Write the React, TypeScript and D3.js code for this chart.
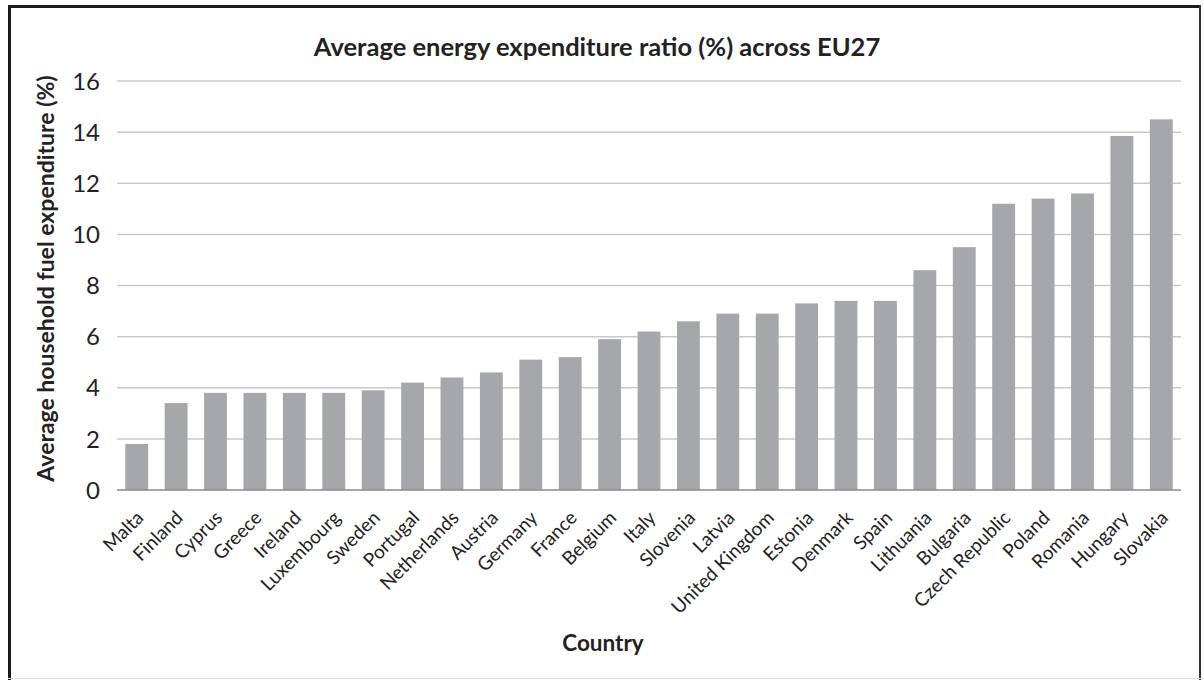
import React from "react";
import * as d3 from "d3";

const countries = ["Malta","Finland","Cyprus","Greece","Ireland","Luxembourg","Sweden","Portugal","Netherlands","Austria","Germany","France","Belgium","Italy","Slovenia","Latvia","United Kingdom","Estonia","Denmark","Spain","Lithuania","Bulgaria","Czech Republic","Poland","Romania","Hungary","Slovakia"];
const values = [1.8,3.4,3.8,3.8,3.8,3.8,3.9,4.2,4.4,4.6,5.1,5.2,5.9,6.2,6.6,6.9,6.9,7.3,7.4,7.4,8.6,9.5,11.2,11.4,11.6,13.85,14.5];
const yTicks = [0,2,4,6,8,10,12,14,16];

const W = 1204, H = 680;
const left = 117, right = 1181, top = 81, bottom = 490;
const FONT = "Lato, 'Open Sans', sans-serif";

export default function App() {
  const x = d3.scaleBand<string>().domain(countries).range([left, right]).paddingInner(0.42).paddingOuter(0.21);
  const y = d3.scaleLinear().domain([0, 16]).range([bottom, top]);
  return (
    <svg width={W} height={H} style={{ position: "absolute", left: 0, top: 0, background: "#fff" }} fontFamily={FONT}>
      <rect x={0} y={0} width={W} height={H} fill="#fff" />
      {yTicks.map((t) => (
        <g key={t}>
          {t > 0 && <line x1={left} x2={right} y1={y(t)} y2={y(t)} stroke="#c9c9c9" strokeWidth={1.5} />}
          <text x={100} y={y(t)} dy="0.36em" textAnchor="end" fontSize={24} fill="#222">{t}</text>
        </g>
      ))}
      {countries.map((c, i) => (
        <rect key={c} x={x(c)} y={y(values[i])} width={x.bandwidth()} height={y(0) - y(values[i])} fill="#a6a7ab" />
      ))}
      <line x1={left} x2={right} y1={y(0)} y2={y(0)} stroke="#8a8a8a" strokeWidth={1.5} />
      {countries.map((c) => {
        const cx = (x(c) as number) + x.bandwidth() / 2 + 8;
        return (
          <text key={c} transform={`translate(${cx},${bottom + 29}) rotate(-45)`} textAnchor="end" fontSize={19} fill="#222">{c}</text>
        );
      })}
      <text x={597} y={56} textAnchor="middle" fontSize={25.5} fontWeight="bold" fill="#222">Average energy expenditure ratio (%) across EU27</text>
      <text transform={`translate(54,${(top + bottom) / 2 - 7}) rotate(-90)`} textAnchor="middle" fontSize={23} fontWeight="bold" fill="#222">Average household fuel expenditure (%)</text>
      <text x={603} y={651} textAnchor="middle" fontSize={22.5} fontWeight="bold" fill="#222">Country</text>
      <line x1={9.5} x2={9.5} y1={5} y2={680} stroke="#1a1a1a" strokeWidth={3} />
      <line x1={8} x2={1201} y1={6.5} y2={6.5} stroke="#1a1a1a" strokeWidth={3} />
      <line x1={1200} x2={1200} y1={5} y2={680} stroke="#333" strokeWidth={2} />
      <line x1={8} x2={1201} y1={678.5} y2={678.5} stroke="#ddd" strokeWidth={1} />
    </svg>
  );
}
